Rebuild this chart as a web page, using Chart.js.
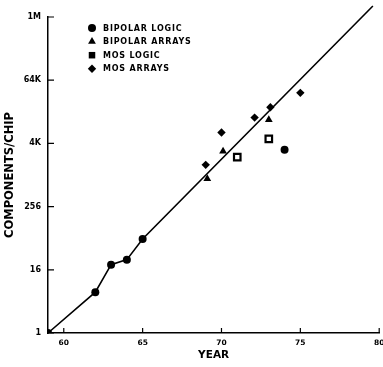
<!DOCTYPE html>
<html>
<head>
<meta charset="utf-8">
<script src="https://cdn.jsdelivr.net/npm/chart.js@4.4.0/dist/chart.umd.min.js"></script>
<style>
  html, body { margin: 0; padding: 0; background: #fff; overflow: hidden; }
  #wrap { width: 386px; height: 367px; position: relative; }
</style>
</head>
<body>
<div id="wrap"><canvas id="chipChart"></canvas></div>
<script>
// values (year, components per chip)
const bipolarLogicYears = [59, 62, 63, 64, 65, 74];
const bipolarLogicValues = [1, 6, 20, 25, 62, 3100];

const bipolarArrayYears = [69.1, 70.1, 73];
const bipolarArrayValues = [870, 2900, 11600];

const mosLogicYears = [71, 73];
const mosLogicValues = [2250, 5000];

const mosArrayYears = [69, 70, 72.1, 73.1, 75];
const mosArrayValues = [1600, 6600, 12700, 20000, 37600];

// trend line: through the early bipolar points, then straight on
const trendYears = [59, 62, 63, 64, 65, 79.6];
const trendValues = [1, 6, 20, 25, 62, 1700000];

const seriesNames = ['BIPOLAR LOGIC', 'BIPOLAR ARRAYS', 'MOS LOGIC', 'MOS ARRAYS'];
const xTicks = [60, 65, 70, 75, 80];
const yTicks = [1, 16, 256, 4096, 65536, 1048576];
const yTickLabels = ['1', '16', '256', '4K', '64K', '1M'];

function toPoints(xs, ys) {
    let pts = [];
    for (let i = 0; i < xs.length; i++) {
        pts.push({x: xs[i], y: ys[i]});
    }
    return pts;
}

const FONT = '"DejaVu Sans", sans-serif';

// legend drawn inside the plot, top-left
const insideLegend = {
    id: 'insideLegend',
    afterDraw(chart) {
        const ctx = chart.ctx;
        ctx.save();
        ctx.font = 'bold 8px ' + FONT;
        ctx.textBaseline = 'middle';
        if ('letterSpacing' in ctx) ctx.letterSpacing = '0.8px';
        for (let i = 0; i < seriesNames.length; i++) {
            const ds = chart.data.datasets[i + 1];
            const y = 28 + i * 13.6;
            ctx.fillStyle = '#000';
            ctx.strokeStyle = '#000';
            Chart.helpers.drawPoint(ctx, {
                pointStyle: ds.pointStyle,
                radius: ds.pointRadius,
                rotation: 0,
                borderWidth: 0
            }, 92, y);
            ctx.fillStyle = '#000';
            ctx.fillText(seriesNames[i], 103, y + 0.5);
        }
        ctx.restore();
    }
};

// short inward tick marks on both axes
const inwardTicks = {
    id: 'inwardTicks',
    afterDatasetsDraw(chart) {
        const ctx = chart.ctx;
        const xs = chart.scales.x, ys = chart.scales.y;
        ctx.save();
        ctx.strokeStyle = '#000';
        ctx.lineWidth = 1.2;
        ctx.beginPath();
        ys.ticks.forEach(t => {
            const py = ys.getPixelForValue(t.value);
            ctx.moveTo(xs.left, py);
            ctx.lineTo(xs.left + 6, py);
        });
        xs.ticks.forEach(t => {
            const px = xs.getPixelForValue(t.value);
            ctx.moveTo(px, ys.bottom);
            ctx.lineTo(px, ys.bottom - 5);
        });
        ctx.stroke();
        ctx.restore();
    }
};

const chartConfig = {
    type: 'scatter',
    data: {
        datasets: [{
            label: 'trend',
            type: 'line',
            data: toPoints(trendYears, trendValues),
            borderColor: '#000',
            borderWidth: 1.6,
            pointRadius: 0,
            tension: 0,
            clip: false
        }, {
            label: seriesNames[0],
            data: toPoints(bipolarLogicYears, bipolarLogicValues),
            pointStyle: 'circle',
            pointRadius: 4,
            backgroundColor: '#000',
            borderColor: '#000',
            borderWidth: 0
        }, {
            label: seriesNames[1],
            data: toPoints(bipolarArrayYears, bipolarArrayValues),
            pointStyle: 'triangle',
            pointRadius: 4.5,
            backgroundColor: '#000',
            borderColor: '#000',
            borderWidth: 0
        }, {
            label: seriesNames[2],
            data: toPoints(mosLogicYears, mosLogicValues),
            pointStyle: 'rect',
            pointRadius: 4.6,
            backgroundColor: '#fff',
            borderColor: '#000',
            borderWidth: 2.2
        }, {
            label: seriesNames[3],
            data: toPoints(mosArrayYears, mosArrayValues),
            pointStyle: 'rectRot',
            pointRadius: 4.2,
            backgroundColor: '#000',
            borderColor: '#000',
            borderWidth: 0
        }]
    },
    plugins: [insideLegend, inwardTicks],
    options: {
        responsive: true,
        maintainAspectRatio: false,
        animation: false,
        events: [],
        layout: { padding: { top: 17, right: 0, left: 0, bottom: 0 } },
        plugins: {
            legend: { display: false },
            tooltip: { enabled: false }
        },
        scales: {
            x: {
                type: 'linear',
                min: 59,
                max: 80,
                afterBuildTicks: function (scale) {
                    scale.ticks = xTicks.map(v => ({value: v}));
                },
                afterFit: function (scale) {
                    scale.height = 34;
                    scale.paddingLeft = 0;
                    scale.paddingRight = 0;
                },
                grid: { display: false, drawTicks: false },
                border: { display: true, color: '#000', width: 1.5 },
                ticks: {
                    color: '#000',
                    padding: 6,
                    maxRotation: 0,
                    font: { family: FONT, size: 7.5, weight: 'bold' }
                },
                title: {
                    display: true,
                    text: 'YEAR',
                    color: '#000',
                    padding: { top: 0, bottom: 5 },
                    font: { family: FONT, size: 10.5, weight: 'bold' }
                }
            },
            y: {
                type: 'logarithmic',
                min: 1,
                max: 1048576,
                afterBuildTicks: function (scale) {
                    scale.ticks = yTicks.map(v => ({value: v}));
                },
                afterFit: function (scale) {
                    scale.width = 48;
                    scale.paddingTop = 0;
                    scale.paddingBottom = 0;
                },
                grid: { display: false, drawTicks: false },
                border: { display: true, color: '#000', width: 1.5 },
                ticks: {
                    color: '#000',
                    padding: 7,
                    autoSkip: false,
                    font: { family: FONT, size: 8, weight: 'bold' },
                    callback: function (value, index) {
                        return yTickLabels[index];
                    }
                },
                title: {
                    display: true,
                    text: 'COMPONENTS/CHIP',
                    color: '#000',
                    padding: { top: 3, bottom: 0 },
                    font: { family: FONT, size: 11.5, weight: 'bold' }
                }
            }
        }
    }
};

window.onload = function () {
    const ctx = document.getElementById('chipChart').getContext('2d');
    window.chipChart = new Chart(ctx, chartConfig);
};
</script>
</body>
</html>
